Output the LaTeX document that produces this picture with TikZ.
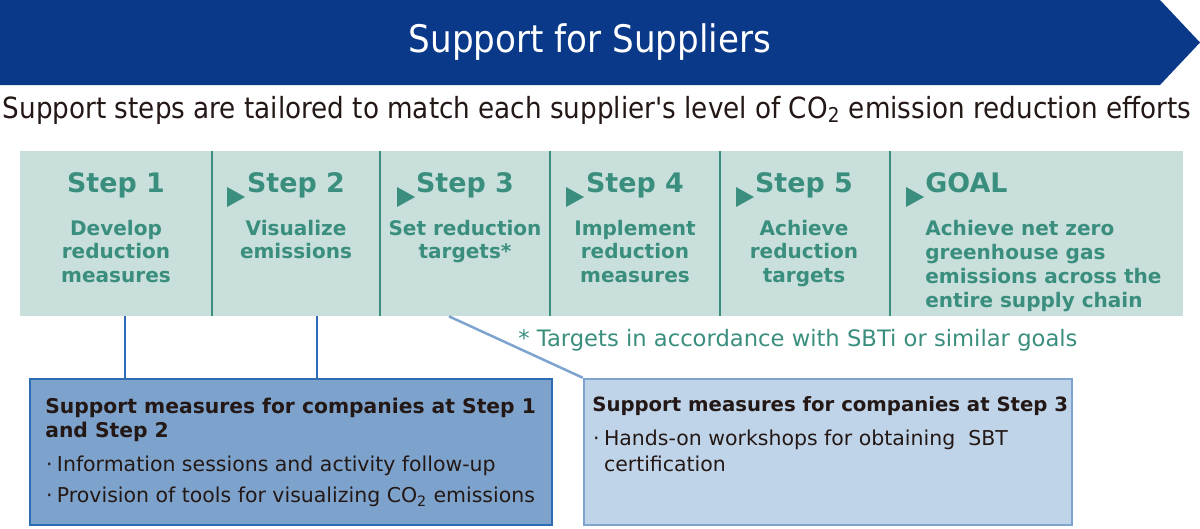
\documentclass[tikz,border=0pt]{standalone}
\usepackage{fontspec}
\setmainfont{DejaVu Sans}
\newfontfamily\condfont{DejaVu Sans Condensed}
\usetikzlibrary{positioning}
\definecolor{bannerblue}{RGB}{10,57,138}
\definecolor{inkdark}{RGB}{35,24,21}
\definecolor{bandfill}{RGB}{200,223,219}
\definecolor{stepgreen}{RGB}{58,142,126}
\definecolor{boxone}{RGB}{125,163,204}
\definecolor{boxoneline}{RGB}{46,107,181}
\definecolor{boxtwo}{RGB}{192,212,233}
\definecolor{boxtwoline}{RGB}{127,163,207}
\newcommand\pxl{0.02cm}
\newcommand\steparrow[1]{\fill[stepgreen] (#1,187) -- ++(18,10) -- ++(-18,10) -- cycle;}
\newcommand\dotitem{\makebox[7.2pt][l]{\hspace{1pt}·}}
\tikzset{
  head/.style={font=\bfseries\fontsize{15.3}{18}\selectfont, text=stepgreen, inner sep=0pt},
  body/.style={font=\bfseries\fontsize{11.4}{13.6}\selectfont, text=stepgreen, align=center, inner sep=0pt},
  divider/.style={draw=stepgreen, line width=1.5*\pxl},
  link/.style={draw=boxoneline, line width=2.5*\pxl},
  linklight/.style={draw=boxtwoline, line width=2.5*\pxl},
  boxtitle/.style={font=\bfseries\fontsize{11.55}{13.6}\selectfont, text=inkdark, align=left, inner sep=0pt, anchor=north west}
}

\begin{document}
\begin{tikzpicture}[x=\pxl, y=-\pxl]
  \useasboundingbox (0,0) rectangle (1200,528);

  % banner
  \fill[bannerblue] (0,0) -- (1160,0) -- (1200,42.5) -- (1160,85) -- (0,85) -- cycle;
  \node[text=white, font=\condfont\fontsize{21.6}{25}\selectfont] (title) at (590,42) {Support for Suppliers};
  \node[text=inkdark, font=\condfont\fontsize{16.6}{20}\selectfont] (subtitle) at (597,110)
    {Support steps are tailored to match each supplier's level of CO\textsubscript{2} emission reduction efforts};

  % step band
  \node[fill=bandfill, minimum width=1163*\pxl, minimum height=165*\pxl, inner sep=0pt] (band) at (601.5,233.5) {};
  \draw[divider] (212,151) -- (212,316) (380,151) -- (380,316) (550,151) -- (550,316)
                 (720,151) -- (720,316) (890,151) -- (890,316);

  \node[head, anchor=base] (s1) at (116,192) {Step 1};
  \node[head, anchor=base] (s2) at (296,192) {Step 2};
  \node[head, anchor=base] (s3) at (465,192) {Step 3};
  \node[head, anchor=base] (s4) at (635,192) {Step 4};
  \node[head, anchor=base] (s5) at (804,192) {Step 5};
  \node[head, anchor=base west] (goal) at (925,192) {GOAL};

  \node[body] (b1) [below=0.43cm of s1] {Develop\\reduction\\measures};
  \node[body] (b2) [below=0.43cm of s2] {Visualize\\emissions};
  \node[body] (b3) [below=0.43cm of s3] {Set reduction\\targets*};
  \node[body] (b4) [below=0.43cm of s4] {Implement\\reduction\\measures};
  \node[body] (b5) [below=0.43cm of s5] {Achieve\\reduction\\targets};
  \node[body, align=left] (bgoal) [below right=0.55cm and 0cm of goal.south west]
    {Achieve net zero\\greenhouse gas\\emissions across the\\entire supply chain};

  \steparrow{227}
  \steparrow{397}
  \steparrow{566}
  \steparrow{736}
  \steparrow{906}

  \node[text=stepgreen, font=\fontsize{12.9}{15}\selectfont, anchor=west, inner sep=0pt] (note) at (518,340)
    {* Targets in accordance with SBTi or similar goals};

  % support boxes
  \node[fill=boxone, draw=boxoneline, line width=2.5*\pxl, minimum width=522*\pxl, minimum height=146*\pxl] (box1) at (291,452) {};
  \node[fill=boxtwo, draw=boxtwoline, line width=2.5*\pxl, minimum width=488*\pxl, minimum height=146*\pxl] (box2) at (828,452) {};

  \node[boxtitle] (t1) at (45,398) {Support measures for companies at Step 1\\and Step 2};
  \node[boxtitle, font=\fontsize{11.65}{17.6}\selectfont] (l1) at (44,456)
    {\dotitem Information sessions and activity follow-up\\\dotitem Provision of tools for visualizing CO\textsubscript{2} emissions};
  \node[boxtitle, font=\bfseries\fontsize{11.2}{13.6}\selectfont] (t2) at (592,396) {Support measures for companies at Step 3};
  \node[boxtitle, font=\fontsize{11.65}{14.7}\selectfont] (l2) at (591,430)
    {\dotitem Hands-on workshops for obtaining\ \ SBT\\\phantom{\dotitem}certification};

  % connectors
  \coordinate (c1) at (125,0);
  \coordinate (c2) at (317,0);
  \coordinate (c3) at (449,0);
  \draw[link] (c1 |- band.south) -- (c1 |- box1.north);
  \draw[link] (c2 |- band.south) -- (c2 |- box1.north);
  \draw[linklight] (c3 |- band.south) -- (box2.north west);
\end{tikzpicture}
\end{document}
